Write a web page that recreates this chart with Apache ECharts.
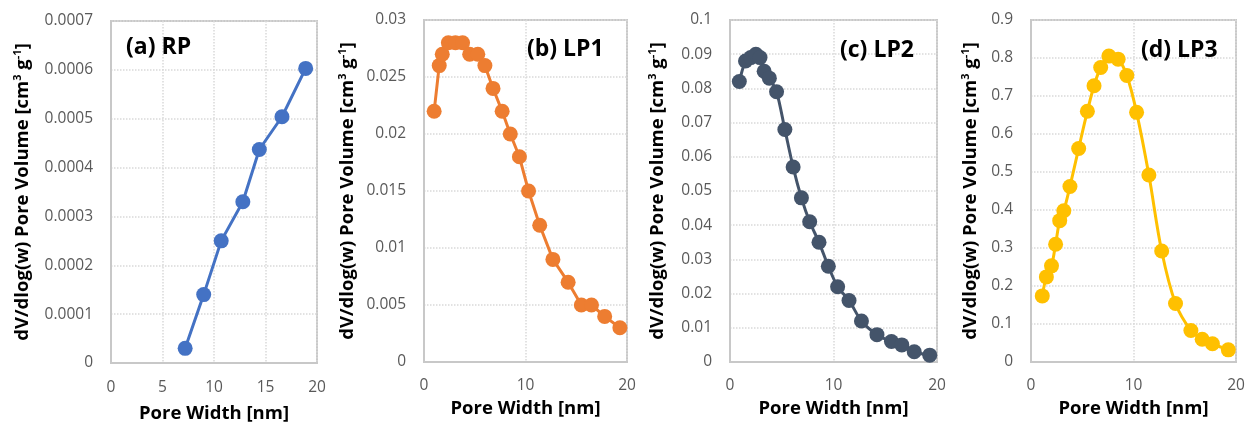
<!DOCTYPE html>
<html>
<head>
<meta charset="utf-8">
<script src="https://cdn.jsdelivr.net/npm/echarts@6/dist/echarts.min.js"></script>
<style>
html,body{margin:0;padding:0;background:#fff;}
#chart{width:1253px;height:428px;}
</style>
</head>
<body>
<div id="chart"></div>
<script>
// ---- Data ----
const panelTitles = ['(a) RP', '(b) LP1', '(c) LP2', '(d) LP3'];
const xTitle = 'Pore Width [nm]';

const rpX = [7.2, 9.0, 10.7, 12.8, 14.4, 16.6, 18.9];
const rpY = [0.00003, 0.00014, 0.00025, 0.00033, 0.000437, 0.000504, 0.000603];

const lp1X = [1.0, 1.5, 1.8, 2.4, 3.1, 3.8, 4.5, 5.3, 6.0, 6.8, 7.7, 8.5, 9.4, 10.3, 11.4, 12.7, 14.2, 15.5, 16.5, 17.8, 19.3];
const lp1Y = [0.022, 0.026, 0.027, 0.028, 0.028, 0.028, 0.027, 0.027, 0.026, 0.024, 0.022, 0.020, 0.018, 0.015, 0.012, 0.009, 0.007, 0.005, 0.005, 0.004, 0.003];

const lp2X = [0.9, 1.5, 2.0, 2.5, 2.9, 3.3, 3.8, 4.5, 5.3, 6.1, 6.9, 7.7, 8.6, 9.5, 10.4, 11.5, 12.7, 14.2, 15.6, 16.6, 17.8, 19.3];
const lp2Y = [0.082, 0.088, 0.089, 0.090, 0.089, 0.085, 0.083, 0.079, 0.068, 0.057, 0.048, 0.041, 0.035, 0.028, 0.022, 0.018, 0.012, 0.008, 0.006, 0.005, 0.003, 0.002];

const lp3X = [1.1, 1.5, 2.0, 2.4, 2.8, 3.2, 3.8, 4.65, 5.5, 6.15, 6.8, 7.6, 8.5, 9.35, 10.3, 11.5, 12.75, 14.1, 15.6, 16.7, 17.7, 19.25];
const lp3Y = [0.174, 0.224, 0.253, 0.31, 0.372, 0.398, 0.462, 0.562, 0.660, 0.727, 0.775, 0.805, 0.797, 0.754, 0.657, 0.492, 0.292, 0.154, 0.083, 0.06, 0.048, 0.032];

const yMax = [0.0007, 0.03, 0.1, 0.9];
const yInterval = [0.0001, 0.005, 0.01, 0.1];
const xInterval = [5, 10, 10, 10];

// ---- Styling / layout ----
const colors = ['#4472C4', '#ED7D31', '#44546A', '#FFC000'];
const seriesX = [rpX, lp1X, lp2X, lp3X];
const seriesY = [rpY, lp1Y, lp2Y, lp3Y];
const smooth = [false, false, 0.3, 0.35];
const grids = [
  {left: 111, top: 21, width: 206, height: 342},
  {left: 424, top: 20, width: 203, height: 342},
  {left: 730, top: 20, width: 207, height: 342},
  {left: 1031, top: 20, width: 205, height: 342}
];
const yNameGap = [78, 66, 62, 50];
const xNameGap = [41, 36, 32, 32];
const xLabelMargin = [17, 16, 16, 16];
const titlePos = [[126, 36], [527, 38], [840, 39], [1141, 39]];
const FONT = 'Open Sans';

// fit font sizes to the reference's text widths
const mctx = document.createElement('canvas').getContext('2d');
function measure(text, weight) {
  mctx.font = weight + ' 100px "' + FONT + '"';
  return mctx.measureText(text).width / 100;
}
function fit(text, weight, target) {
  return Math.round(target / measure(text, weight) * 2) / 2;
}
const tickSize = fit('0.0007', 'normal', 49);
const xTitleSize = fit(xTitle, 'bold', 148);
const panelTitleSize = fit('(a) RP', 'bold', 65);
const supRatio = 0.62;
const yBaseW = measure('dV/dlog(w) Pore Volume [cm g]', 'bold');
const ySupW = measure('3-1', 'bold') * supRatio;
const yTitleSize = Math.round(297 / (yBaseW + ySupW) * 2) / 2;
const supSize = Math.round(yTitleSize * supRatio);

const chart = echarts.init(document.getElementById('chart'), null, {renderer: 'canvas'});

const fmt = v => String(+v.toFixed(5));

const option = {
  backgroundColor: '#ffffff',
  animation: false,
  grid: grids.map(g => Object.assign({show: true, borderColor: '#C8C8C8', borderWidth: 2, backgroundColor: 'transparent', containLabel: false}, g)),
  xAxis: grids.map((g, i) => ({
    type: 'value', gridIndex: i, min: 0, max: 20, interval: xInterval[i],
    name: xTitle, nameLocation: 'middle', nameGap: xNameGap[i],
    nameTextStyle: {fontFamily: FONT, fontWeight: 'bold', fontSize: xTitleSize, color: '#000'},
    axisLine: {show: true, lineStyle: {color: '#C8C8C8', width: 2}},
    axisTick: {show: false},
    axisLabel: {fontFamily: FONT, fontSize: tickSize, color: '#595959', margin: xLabelMargin[i]},
    splitLine: {show: true, lineStyle: {color: '#D9D9D9', type: 'dotted', width: 1.5}}
  })),
  yAxis: grids.map((g, i) => ({
    type: 'value', gridIndex: i, min: 0, max: yMax[i], interval: yInterval[i],
    name: 'dV/dlog(w) Pore Volume [cm{s|3} g{s|-1}]',
    nameLocation: 'middle', nameGap: yNameGap[i], nameRotate: 90,
    nameTextStyle: {fontFamily: FONT, fontWeight: 'bold', fontSize: yTitleSize, color: '#000',
      rich: {s: {fontFamily: FONT, fontWeight: 'bold', fontSize: supSize, color: '#000', verticalAlign: 'top', lineHeight: Math.round(yTitleSize * 1.15)}}},
    axisLine: {show: true, lineStyle: {color: '#C8C8C8', width: 2}},
    axisTick: {show: false},
    axisLabel: {fontFamily: FONT, fontSize: tickSize, color: '#595959', margin: 18, formatter: fmt},
    splitLine: {show: true, lineStyle: {color: '#D9D9D9', type: 'dotted', width: 1.5}}
  })),
  series: seriesX.map((xs, i) => ({
    type: 'line', xAxisIndex: i, yAxisIndex: i,
    data: xs.map((x, k) => [x, seriesY[i][k]]),
    smooth: smooth[i],
    symbol: 'circle', symbolSize: 15,
    lineStyle: {color: colors[i], width: 3},
    itemStyle: {color: colors[i]},
    z: 3
  })),
  graphic: panelTitles.map((t, i) => ({
    type: 'text', left: titlePos[i][0], top: titlePos[i][1], z: 10,
    style: {text: t, fontFamily: FONT, fontWeight: 'bold', fontSize: panelTitleSize, fill: '#000'}
  }))
};
chart.setOption(option);
</script>
</body>
</html>
